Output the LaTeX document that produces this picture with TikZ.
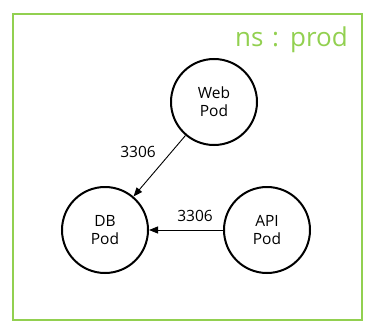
\documentclass[tikz,border=0pt]{standalone}
\usepackage{fontspec}
\setmainfont{Open Sans}
\usetikzlibrary{arrows.meta}
\definecolor{nsgreen}{RGB}{146,208,80}
\begin{document}
\begin{tikzpicture}[x=1pt,y=-1pt,
  pod/.style={circle,draw=black,line width=2pt,minimum size=86pt,inner sep=0pt,align=center,font=\fontsize{15.5}{18}\selectfont},
  conn/.style={draw=black,line width=0.9pt,-{Triangle[length=9pt,width=7pt]}},
  lbl/.style={font=\fontsize{15.5}{18}\selectfont,inner sep=0pt}]
\useasboundingbox (0,0) rectangle (375,332);
\draw[nsgreen,line width=2pt] (13,14) rectangle (362,320);
\node[lbl,text=nsgreen,font=\fontsize{26}{30}\selectfont,anchor=base east] (ns) at (348,46) {ns\hspace{2pt} :\hspace{2pt} prod};
\node[pod] (web) at (214,102) {Web\\Pod};
\node[pod] (db) at (105,230) {DB\\Pod};
\node[pod] (api) at (267,230) {API\\Pod};
\draw[conn] (web) -- (db);
\draw[conn] (api) -- (db);
\node[lbl] (l1) at (138,152) {3306};
\node[lbl] (l2) at (195,216) {3306};
\end{tikzpicture}
\end{document}
